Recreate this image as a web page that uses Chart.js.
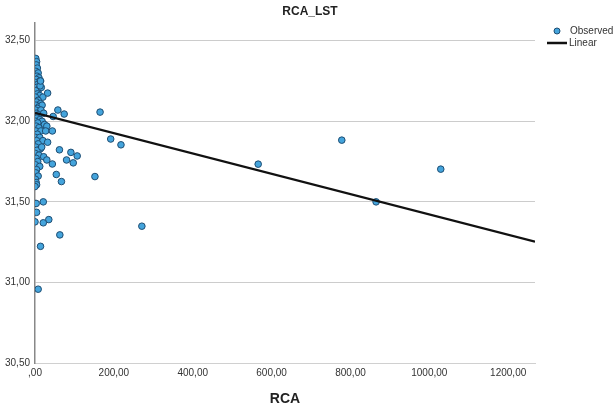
<!DOCTYPE html>
<html>
<head>
<meta charset="utf-8">
<script src="https://cdn.jsdelivr.net/npm/chart.js@4.4.1/dist/chart.umd.min.js"></script>
<style>
html,body{margin:0;padding:0;background:#fff;}
#wrap{width:615px;height:408px;position:relative;}
</style>
</head>
<body>
<div id="wrap"><canvas id="c" width="615" height="408"></canvas></div>
<script>
// Observed points (RCA, LST)
const obsX = [2,4,3,6,2,8,5,10,3,12,1,7,14,4,10,2,16,6,12,1,20,8,4,14,2,10,18,6,1,15,3,9,22,5,12,1,18,7,3,10,24,2,15,6,1,12,4,20,8,2,14,5,1,10,3,22,7,1,12,4,2,8,1,3,
  13,14,32,58,74,46,165,192,218,30,27,44,62,91,107,80,97,44,32,17,54,67,152,4,30,566,778,865,1029,271,0,21,4,35,21,0,63,14,8,3,0];
const obsY = [32.39,32.37,32.35,32.33,32.31,32.30,32.28,32.27,32.26,32.25,32.24,32.23,32.25,32.21,32.20,32.19,32.21,32.17,32.16,32.15,32.15,32.13,32.12,32.11,32.10,32.09,32.10,32.08,32.07,32.07,32.05,32.04,32.05,32.02,32.01,32.00,32.00,31.99,31.97,31.96,31.98,31.94,31.94,31.92,31.90,31.90,31.88,31.88,31.86,31.84,31.83,31.82,31.80,31.79,31.77,31.78,31.75,31.73,31.72,31.70,31.68,31.66,31.64,31.62,
  32.22,32.25,32.175,32.07,32.045,32.03,32.057,31.89,31.854,31.97,31.94,31.94,31.823,31.807,31.785,31.76,31.742,31.735,31.87,31.84,31.67,31.626,31.657,31.606,31.76,31.734,31.883,31.50,31.703,31.349,31.49,31.50,31.435,31.39,31.37,31.376,31.295,31.224,30.958,31.49,31.595];
// Linear fit endpoints
const fitX = [0, 1268];
const fitY = [32.053, 31.253];
// Axis ticks
const yTicks = [30.5, 31.0, 31.5, 32.0, 32.5];
const xTicks = [0, 200, 400, 600, 800, 1000, 1200];
const titleText = 'RCA_LST';
const xTitle = 'RCA';
const legendLabels = ['Observed', 'Linear'];

const fmt = v => {
  const s = v.toFixed(2).replace('.', ',');
  return s.startsWith('0,') ? s.slice(1) : s;
};

const FONT = '"Liberation Sans", Arial, sans-serif';

const overlay = {
  id: 'overlay',
  afterDraw(chart) {
    const ctx = chart.ctx;
    const ca = chart.chartArea;
    ctx.save();
    // title
    ctx.fillStyle = '#222';
    ctx.font = 'bold 12px ' + FONT;
    ctx.textAlign = 'center';
    ctx.textBaseline = 'middle';
    ctx.fillText(titleText, (ca.left + ca.right) / 2 + 25, 12);
    // legend
    const ds0 = chart.data.datasets[0], ds1 = chart.data.datasets[1];
    ctx.beginPath();
    ctx.arc(557, 31, 3, 0, Math.PI * 2);
    ctx.fillStyle = ds0.backgroundColor;
    ctx.fill();
    ctx.lineWidth = 1;
    ctx.strokeStyle = ds0.borderColor;
    ctx.stroke();
    ctx.beginPath();
    ctx.moveTo(547, 43);
    ctx.lineTo(567, 43);
    ctx.lineWidth = 2.5;
    ctx.strokeStyle = ds1.borderColor;
    ctx.stroke();
    ctx.fillStyle = '#333';
    ctx.font = '10px ' + FONT;
    ctx.textAlign = 'left';
    ctx.fillText(legendLabels[0], 570, 31);
    ctx.fillText(legendLabels[1], 569, 43);
    ctx.restore();
  }
};

new Chart(document.getElementById('c'), {
  type: 'scatter',
  data: {
    datasets: [
      {
        label: legendLabels[0],
        data: obsX.map((x, i) => ({x: x, y: obsY[i]})),
        backgroundColor: '#44a4dc',
        borderColor: '#1e4d72',
        borderWidth: 1,
        pointRadius: 3.3,
        order: 2
      },
      {
        label: legendLabels[1],
        type: 'line',
        data: fitX.map((x, i) => ({x: x, y: fitY[i]})),
        borderColor: '#111',
        borderWidth: 2.2,
        pointRadius: 0,
        fill: false,
        order: 1
      }
    ]
  },
  options: {
    responsive: false,
    animation: false,
    layout: {padding: {top: 23, right: 80, left: 0, bottom: 0}},
    plugins: {legend: {display: false}, title: {display: false}, tooltip: {enabled: false}},
    scales: {
      x: {
        type: 'linear',
        min: 0, max: 1268,
        afterBuildTicks: s => { s.ticks = xTicks.map(v => ({value: v})); },
        afterFit: s => { s.height = 45; },
        grid: {display: false, drawTicks: false},
        border: {display: true, color: '#d0d0d0', width: 1},
        ticks: {callback: v => fmt(v), font: {family: FONT, size: 10}, color: '#333', padding: 4, maxRotation: 0},
        title: {display: true, text: xTitle, font: {family: FONT, size: 14, weight: 'bold'}, color: '#222', padding: {top: 12, bottom: 0}}
      },
      y: {
        type: 'linear',
        min: 30.5, max: 32.61,
        afterBuildTicks: s => { s.ticks = yTicks.map(v => ({value: v})); },
        afterFit: s => { s.width = 35; },
        grid: {display: true, color: '#cccccc', lineWidth: 1, drawTicks: false},
        border: {display: true, color: '#888', width: 1.5},
        ticks: {callback: v => fmt(v), font: {family: FONT, size: 10}, color: '#333', padding: 5}
      }
    }
  },
  plugins: [overlay]
});
</script>
</body>
</html>
